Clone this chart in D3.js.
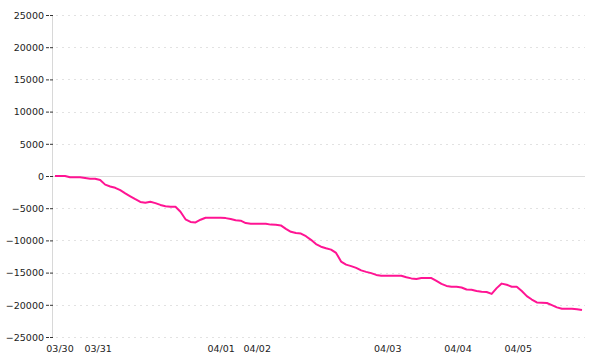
<!DOCTYPE html>
<html>
<head>
<meta charset="utf-8">
<script src="https://cdn.jsdelivr.net/npm/d3@7"></script>
<style>
  body { margin: 0; background: #fff; }
  svg text { font-family: "DejaVu Sans", Verdana, sans-serif; font-size: 9.5px; fill: #222; }
</style>
</head>
<body>
<svg id="chart" width="600" height="360"></svg>
<script>
// cumulative value, one reading per sample step
var values = [
    0, 0, 0, -200, -200, -200, -300, -420, -420, -620,
    -1340, -1630, -1830, -2200, -2690, -3150, -3600, -4020, -4150, -3990,
    -4210, -4490, -4700, -4770, -4770, -5540, -6720, -7130, -7210, -6790,
    -6480, -6480, -6480, -6480, -6540, -6680, -6880, -6930, -7310, -7410,
    -7410, -7410, -7410, -7550, -7560, -7670, -8200, -8660, -8850, -8930,
    -9350, -9910, -10570, -10980, -11230, -11430, -11940, -13290, -13760, -13990,
    -14270, -14660, -14890, -15080, -15360, -15480, -15480, -15480, -15480, -15480,
    -15730, -15900, -15990, -15840, -15840, -15840, -16290, -16750, -17070, -17190,
    -17190, -17310, -17620, -17660, -17860, -17980, -18010, -18310, -17410, -16710,
    -16880, -17190, -17190, -17860, -18650, -19180, -19640, -19670, -19720, -20060,
    -20400, -20610, -20610, -20610, -20680, -20810
];

// day labels and the sample index where each sits
var dayLabels = ['03/30', '03/31', '04/01', '04/02', '04/03', '04/04', '04/05'];
var dayPos = [1, 8.6, 33.1, 40.3, 66.3, 80.3, 92.3];

var yTicks = [25000, 20000, 15000, 10000, 5000, 0, -5000, -10000, -15000, -20000, -25000];

(function(){
    'use strict';

    var svg = d3.select('#chart'),
        left = 52,
        right = 585;

    var x = d3.scaleLinear()
        .domain([0, values.length - 1])
        .range([55, 582]);

    var y = d3.scaleLinear()
        .domain([-25000, 25000])
        .range([337, 15]);

    // grid lines
    svg.append('g')
        .selectAll('line')
        .data(yTicks.filter(function(d){ return d !== 0; }))
        .enter().append('line')
        .attr('x1', left + 4).attr('x2', right)
        .attr('y1', function(d){ return Math.round(y(d)) + 0.5; })
        .attr('y2', function(d){ return Math.round(y(d)) + 0.5; })
        .attr('stroke', '#e2e2e2')
        .attr('stroke-dasharray', '2,4');

    // zero line
    svg.append('line')
        .attr('x1', left).attr('x2', right)
        .attr('y1', Math.round(y(0)) + 0.5).attr('y2', Math.round(y(0)) + 0.5)
        .attr('stroke', '#dcdcdc');

    // y axis line
    svg.append('line')
        .attr('x1', left + 0.5).attr('x2', left + 0.5)
        .attr('y1', y(25000)).attr('y2', y(-25000))
        .attr('stroke', '#d8d8d8');

    // y axis ticks + labels
    var yAxis = d3.axisLeft(y)
        .tickValues(yTicks)
        .tickSize(7)
        .tickPadding(2)
        .tickFormat(d3.format('d'));

    var gy = svg.append('g')
        .attr('transform', 'translate(' + (left + 1) + ',0)')
        .call(yAxis);
    gy.select('.domain').remove();
    gy.selectAll('.tick line')
        .attr('stroke', '#333')
        .attr('stroke-dasharray', '3,1');
    gy.selectAll('.tick text')
        .attr('font-size', null).attr('font-family', null)
        .attr('dy', '0.35em');

    // x labels
    svg.append('g')
        .selectAll('text')
        .data(dayLabels)
        .enter().append('text')
        .attr('x', function(d, i){ return x(dayPos[i]); })
        .attr('y', 352)
        .attr('text-anchor', 'middle')
        .text(function(d){ return d; });

    // value line
    var line = d3.line()
        .x(function(d, i){ return x(i); })
        .y(function(d){ return y(d); });

    svg.append('path')
        .datum(values)
        .attr('d', line)
        .attr('fill', 'none')
        .attr('stroke', '#ff1493')
        .attr('stroke-width', 2)
        .attr('stroke-linejoin', 'round');
}());
</script>
</body>
</html>
